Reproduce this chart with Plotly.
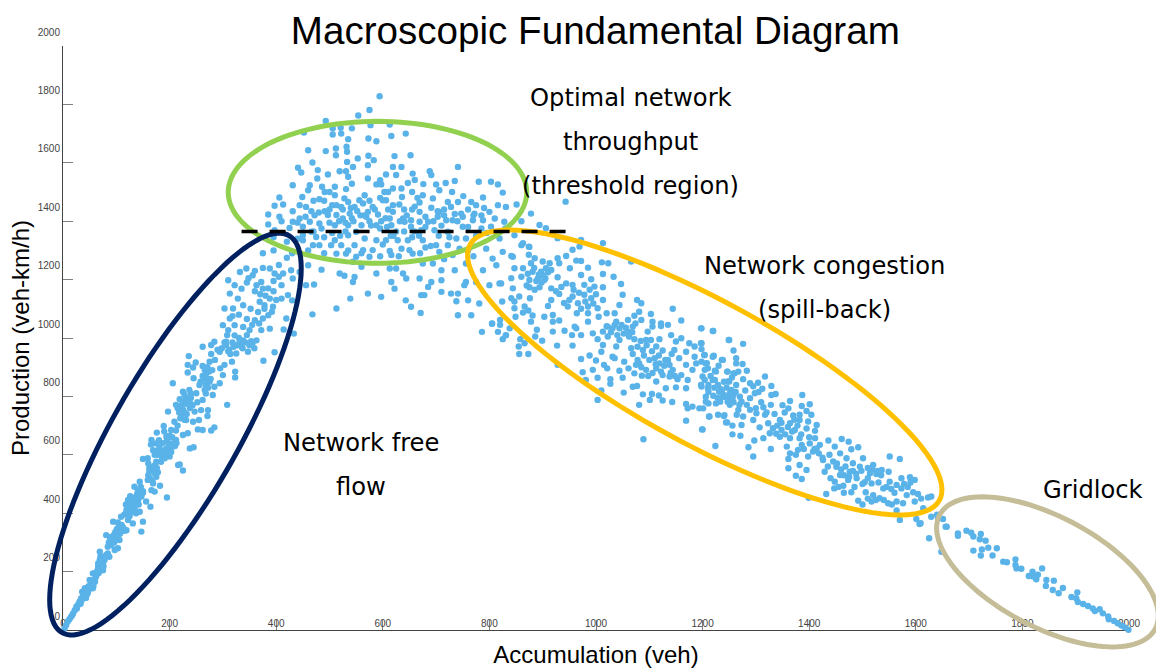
import numpy as np
import plotly.graph_objects as go

# Accumulation (veh), Production (veh-km/h) pairs, grouped by regime
free_flow = [(3,6),(6,17),(9,29),(12,37),(19,57),(22,68),(28,86),(31,97),(25,80),(34,108),(37,114),(36,131),(44,120),(47,131),(41,143),(50,143),(56,143),(53,166),(50,171),(59,194),(62,183),(56,194),(66,217),(72,205),(75,205),(66,228),(69,240),(75,228),(72,251),(81,257),(87,251),(69,268),(84,285),(91,291),(97,274),(103,280),(81,325),(94,314),(100,325),(106,308),(109,337),(119,342),(94,371),(103,368),(147,337),(150,371),(122,377),(131,365),(109,388),(119,411),(128,422),(137,400),(144,405),(122,445),(131,434),(141,445),(144,468),(134,491),(144,508),(147,457),(156,440),(164,422),(195,454),(172,474),(166,479),(182,494),(169,502),(159,514),(162,542),(172,537),(175,525),(162,554),(150,586),(159,588),(175,576),(184,576),(191,588),(200,594),(216,565),(225,546),(219,567),(166,651),(175,639),(169,616),(181,628),(194,622),(206,628),(212,651),(194,662),(203,685),(212,683),(225,668),(234,674),(238,622),(245,626),(176,676),(189,699),(209,713),(222,731),(231,719),(244,713),(255,719),(253,687),(262,685),(278,683),(284,694),(271,733),(272,753),(259,753),(197,748),(212,771),(219,790),(228,805),(237,822),(225,816),(234,776),(247,748),(250,811),(262,788),(281,805),(266,822),(256,839),(245,862),(206,845),(234,882),(234,908),(244,899),(249,916),(236,938),(262,970),(278,976),(294,953),(306,976),(325,947),(337,965),(347,953),(359,965),(278,945),(262,904),(275,919),(269,879),(275,850),(284,833),(294,845),(300,873),(295,896),(303,908),(317,919),(323,885),(323,865),(308,771),(376,922),(397,951),(284,987),(331,982),
(15,45),(17,50),(26,74),(33,90),(40,125),(43,110),(48,150),(54,158),(60,175),(64,200),(70,222),(78,240),(84,262),(90,300),(96,300),(88,318),(104,330),(112,345),(115,395),(125,400),(134,418),(138,432),(126,458),(150,475),(170,560),(178,600),(188,610),(198,640),(205,660),(180,650),(215,700),(228,745),(238,760),(252,780),(240,795),(268,810),(272,860),(285,925),(310,955),(320,970)]
free_flow_dense = [(30,90),(33,100),(35,102),(38,120),(39,110),(42,118),(45,135),(46,125),(49,140),(52,150),(55,160),(57,150),(58,172),(60,165),(63,190),(65,205),(67,195),(68,212),(71,232),(73,225),(70,250),(74,240),(76,218),
(86,300),(89,310),(92,305),(95,325),(98,335),(101,345),(104,350),(107,330),(110,360),(113,350),(116,340),(99,315),
(118,400),(121,415),(124,425),(127,440),(130,450),(133,425),(136,455),(139,465),(142,430),(128,405),(125,390),(135,410),(140,480),(146,490),(150,470),(118,430),
(160,530),(163,520),(166,545),(168,510),(170,550),(173,565),(176,555),(160,570),(178,540),
(183,600),(186,590),(190,615),(193,605),(197,600),(200,620),(203,610),(207,640),(210,630),(213,640),(187,640),(195,650),(178,615),(172,600),(165,635),(200,665),(190,680),
(215,760),(218,745),(222,770),(225,755),(228,785),(231,775),(235,795),(238,780),(232,740),(240,810),(243,770),(220,725),(228,720),
(258,850),(262,870),(265,860),(268,840),(271,900),(274,885),(277,860),(280,890),(272,830),(266,890),
(290,960),(298,965),(303,985),(312,960),(318,985),(326,975),(335,970),(342,985),(350,975),(356,985),(314,945)]
knee = [(310,1198),(332,1226),(344,1238),(322,1181),(335,1169),(313,1152),(328,1135),(338,1112),(303,1101),(319,1101),(356,1215),(372,1192),(363,1181),(375,1169),(388,1238),(397,1221),(413,1221),(410,1181),(428,1232),(431,1204),(444,1226),(460,1249),(456,1181),(471,1183),(485,1234),(369,1124),(378,1112),(388,1135),(410,1135),(422,1147),(394,1107),(366,1089),(375,1067),(385,1078),(360,1061),(300,1044),(313,1067),(322,1044),(310,1027),(322,1009),(338,1038),(350,1027),(372,1027),(388,1032),(338,992),(353,989),(363,992),(306,987),(433,1015),(419,1067),(468,1081),(513,1101),(414,1029),(430,1129),
(348,1205),(360,1160),(380,1145),(395,1160),(405,1250),(420,1275),(375,1290),(395,1300),(352,1100),(330,1080),(345,1065),(368,1050),(308,1010),(318,1075),(330,1000),(345,1010),(355,1045),(378,1100),(392,1090),(400,1130),(370,1150),(385,1170),(395,1195),(405,1210),(345,1190),(360,1230),(375,1240)]
peak = [(594,1828),(575,1781),(554,1762),(493,1743),(506,1718),(521,1720),(542,1718),(577,1729),(613,1731),(506,1697),(522,1700),(452,1704),(535,1681),(573,1683),(588,1674),(616,1692),(643,1700),(532,1655),(460,1643),(493,1640),(512,1649),(512,1626),(533,1638),(553,1615),(573,1624),(583,1609),(622,1623),(652,1626),(533,1603),(544,1586),(572,1592),(441,1583),(447,1567),(468,1601),(478,1575),(497,1560),(519,1571),(531,1571),(535,1552),(572,1546),(606,1560),(619,1586),(635,1586),(625,1558),(656,1563),(688,1571),(691,1558),(741,1586),(431,1523),(463,1523),(460,1506),(477,1546),(486,1518),(510,1518),(531,1510),(542,1528),(588,1526),(597,1526),(619,1512),(635,1512),(647,1531),(660,1541),(676,1527),(700,1526),(718,1531),(735,1538),(780,1535),(803,1535),(816,1526),(825,1498),(788,1481),(751,1486),(730,1500),(706,1506),(694,1478),(675,1489),(655,1500),(636,1483),(603,1500),(600,1472),(566,1489),(556,1472),(528,1478),(510,1489),(491,1500),(481,1475),(449,1483),(406,1481),(397,1453),(413,1457),(385,1423),(406,1415),(431,1434),(444,1455),(456,1449),(466,1434),(491,1434),(513,1455),(522,1449),(535,1466),(547,1449),(563,1461),(581,1449),(606,1472),(619,1455),(631,1457),(669,1464),(691,1446),(703,1434),(722,1466),(741,1466),(766,1466),(775,1455),(816,1455),(831,1449),(851,1457),(878,1426),(800,1432),(772,1426),(747,1426),(728,1449),(706,1432),(669,1432),(653,1403),(638,1409),(619,1432),(613,1409),(591,1423),(572,1432),(560,1386),(538,1426),(525,1409),(513,1421),(497,1421),(481,1392),(463,1398),(444,1409),(431,1398),(385,1389),(397,1369),(425,1377),(450,1381),(466,1364),(485,1375),(510,1386),(535,1386),(550,1364),(569,1415),(588,1386),(616,1386),(641,1398),(653,1381),(669,1398),(685,1398),(719,1403),(731,1403),(750,1415),(769,1403),(788,1403),(810,1409),(828,1398),(703,1415),(672,1369),(697,1369),(722,1364),(750,1381),(785,1375),(803,1381),(847,1352),(819,1341),(450,1352),(450,1335),(475,1346),(510,1335),(535,1352),(566,1341),(588,1335),(606,1335),(628,1335),(647,1335),(675,1335),(700,1318),(722,1318),(738,1341),(756,1341),(794,1306),(469,1318),(481,1318),(503,1318),(522,1318),(547,1318),(563,1301),(581,1301),(613,1298),(635,1306),(650,1301),(706,1295),(731,1284),(513,1289),(531,1289),(550,1278),(575,1278),(616,1284),(656,1289),(744,1306),(544,1261),(560,1244),(588,1221),(613,1238),(625,1238),(519,1221),(528,1213),(547,1209),(638,1221),(675,1255),(694,1255),(710,1232),(735,1232),(756,1255),(616,1192),(544,1192),(644,1204),(669,1204),(691,1192),(710,1198),(756,1192),(622,1169),(572,1152),(597,1141),(539,1135),(678,1147),(672,1147),(710,1158),(728,1152),(741,1152),(643,1129),(685,1175),(738,1126),(760,1129),(781,1118),(653,1107),(671,1086),(741,1078),(766,1078),(805,1049),(786,1021),(816,1021),(831,1009),(753,1181),(775,1192),(800,1181),(819,1187),(788,1232),(813,1249),(806,1272),(825,1295),(844,1278),(860,1318),(875,1312),
(440,1395),(455,1415),(472,1420),(500,1440),(518,1400),(530,1365),(545,1400),(558,1420),(575,1400),(595,1375),(605,1410),(625,1365),(640,1365),(660,1365),(680,1415),(710,1385),(735,1425),(760,1380),(775,1350),(505,1360),(520,1350),(490,1345),(600,1320),(615,1350),(655,1345),(690,1315),(595,1480),(610,1440),(575,1470),(540,1445),(500,1500),(470,1470),(640,1440),(660,1450),(715,1440),(760,1440),(790,1445),(595,1540),(610,1500),(665,1480)]
peak_dense = [(525,1440),(530,1395),(542,1410),(552,1435),(565,1420),(578,1385),(585,1440),(597,1400),(608,1380),(620,1350),(632,1400),(645,1420),(655,1440),(668,1350),(680,1380),(695,1400),(705,1350),(715,1420),(725,1345),(740,1400),(770,1420),(785,1420),(795,1360),(830,1375),(860,1400),(470,1365),(480,1430),(500,1395),(505,1455),(490,1470),(440,1340),(460,1300),(490,1290),(535,1300),(560,1290),(595,1280),(630,1280),(670,1290),(680,1310),(715,1270),(770,1280),(760,1300),(420,1330),(430,1290),(410,1400),(395,1345)]
congestion = [(894,1387),(906,1376),(943,1467),(1013,1325),(972,1336),(928,1342),(863,1325),(874,1313),(956,1302),(969,1313),(841,1281),(874,1285),(885,1273),(900,1262),(928,1273),(944,1281),(963,1265),(972,1264),(1011,1259),(1023,1256),(1066,1262),(985,1241),(951,1239),(878,1256),(913,1256),(931,1256),(847,1239),(863,1239),(881,1227),(897,1227),(906,1239),(916,1233),(841,1205),(860,1210),(875,1199),(891,1205),(903,1199),(928,1208),(972,1216),(1013,1219),(1033,1210),(991,1201),(1047,1185),(944,1187),(956,1182),(978,1182),(997,1176),(1013,1174),(894,1174),(875,1174),(844,1170),(856,1142),(822,1187),(916,1170),(931,1151),(956,1142),(978,1148),(991,1136),(1013,1130),(1050,1148),(1077,1130),(1085,1119),(841,1136),(824,1125),(847,1125),(876,1136),(916,1130),(910,1110),(947,1108),(966,1119),(985,1108),(1003,1102),(1044,1113),(1081,1090),(1144,1100),(866,1108),(847,1102),(873,1094),(863,1087),(849,1073),(903,1073),(881,1077),(919,1079),(964,1085),(985,1085),(1005,1073),(1020,1085),(1035,1085),(1072,1076),(1103,1082),(919,1056),(878,1056),(931,1060),(1038,1056),(1060,1062),(1085,1062),(985,1056),(1106,1056),(1122,1050),(1135,1045),(1160,1060),(820,1062),(805,1050),(820,1045),(960,1039),(1022,1039),(1044,1033),(1069,1039),(1097,1022),(1106,1039),(1122,1041),(1197,1033),(1219,1024),(838,1033),(889,1028),(919,1022),(941,1025),(963,1033),(994,1016),(1013,1022),(1031,1033),(1060,1022),(1094,993),(1119,996),(1141,1010),(1160,999),(1175,982),(1197,982),(1249,993),(831,1010),(825,996),(858,996),(886,1005),(899,991),(955,1010),(972,1010),(1003,996),(1022,1005),(1044,993),(1072,996),(1103,993),(1150,988),(1185,971),(866,982),(855,971),(927,974),(956,974),(1013,976),(1038,971),(1066,965),(1088,959),(1113,971),(1125,957),(1147,959),(1169,953),(1203,942),(1219,936),(856,945),(873,945),(1010,953),(1031,936),(1069,945),(1110,931),(1130,925),(1156,931),(1185,936),(1206,913),(1236,925),(972,928),(988,940),(1000,923),(1015,908),(1035,931),(1053,919),(1081,913),(1119,913),(1138,908),(1169,908),(1188,913),(1247,885),(1263,913),(928,908),(1021,896),(1044,888),(1061,896),(1075,908),(1094,891),(1113,896),(1144,891),(1160,873),(1181,891),(1210,896),(1225,885),(1260,879),(975,883),(994,891),(1003,864),(1027,859),(1050,864),(1072,879),(1086,871),(1113,851),(1125,873),(1138,868),(1153,859),(1172,856),(1200,868),(1219,856),(1247,851),(981,856),(1027,843),(1069,833),(1077,836),(1131,828),(1150,831),(1169,828),(1197,839),(1210,828),(1231,816),(1253,816),(1263,839),(1010,820),(1052,813),(1088,807),(1105,808),(1118,803),(1206,799),(1238,799),(1256,794),(1003,788),(1101,788),(1125,786),(1143,781),(1169,774),(1181,765),(1206,782),(1225,776),(1247,782),(1081,771),(1172,759),(1194,759),(1213,731),(1241,736),(1269,771),(1169,717),(1244,711),(1199,687),(1256,700),(1089,653)]
congestion_dense = [(872,1220),(884,1240),(888,1195),(893,1218),(898,1190),(900,1215),(905,1205),(910,1225),(870,1180),(885,1165),(925,1160),(935,1175),(940,1120),(950,1130),(958,1165),(968,1155),(972,1100),(980,1125),(988,1165),(995,1118),(1000,1150),(1020,1040),(1028,1020),(1035,1045),(1040,1010),(1048,1045),(1052,1015),(1056,1035),(1062,1005),(1068,1020),(1074,1050),(1078,970),(1084,990),(1090,940),(1095,975),(1100,925),(1105,955),(1112,910),(1118,940),(1122,885),(1128,905),(1135,925),(1140,880),(1142,945),(1148,870),(1078,925),(1085,900),(1098,870),(1106,880),(1222,830),(1228,795),(1234,825),(1240,805),(1246,795),(1251,810),(1245,830),(1258,780),(1262,815),(1340,700),(1348,710),(1355,670),(1360,695),(1368,680),(1372,720),(1378,700),(1385,670),(1395,690),(1338,672),(1410,620),(1418,605),(1425,590),(1438,600),(1452,570),(1460,550),(1468,560),(1475,525),(1482,545),(1488,535),(1498,545),(1510,555),(1518,550),(1528,545),(1535,530),(1510,450),(1525,445),(1540,445),(1555,430),(1500,430),(1585,490),(1590,505),(1610,450),(1640,395)]
spillback_tail = [(1198,1033),(1220,1024),(1250,993),(1276,980),(1198,982),(1258,957),(1198,962),(1204,942),(1221,939),(1238,925),(1263,931),(1275,911),(1208,914),(1198,919),(1204,891),(1223,888),(1246,885),(1258,879),(1267,885),(1283,888),(1317,868),(1276,859),(1223,856),(1204,856),(1250,851),(1289,845),(1304,847),(1229,839),(1211,839),(1198,834),(1329,836),(1312,826),(1211,816),(1236,816),(1254,822),(1298,811),(1337,808),(1329,805),(1220,802),(1242,799),(1258,805),(1270,799),(1289,794),(1364,784),(1387,805),(1401,773),(1386,767),(1201,759),(1211,776),(1233,782),(1251,771),(1273,782),(1283,771),(1314,763),(1328,771),(1354,745),(1361,759),(1267,754),(1289,754),(1317,737),(1301,742),(1212,731),(1229,737),(1240,733),(1264,737),(1276,731),(1404,737),(1382,737),(1246,711),(1273,702),(1295,719),(1307,694),(1323,708),(1345,719),(1364,708),(1382,719),(1398,714),(1414,702),(1200,687),(1332,691),(1348,685),(1373,685),(1411,682),(1256,670),(1271,665),(1314,657),(1326,674),(1345,662),(1364,657),(1382,657),(1411,657),(1436,649),(1461,654),(1474,645),(1297,649),(1328,620),(1286,626),(1224,630),(1358,628),(1386,634),(1401,639),(1420,634),(1448,628),(1492,626),(1295,594),(1364,605),(1379,617),(1407,611),(1414,622),(1458,605),(1479,619),(1551,594),(1570,586),(1361,586),(1382,565),(1398,594),(1426,582),(1445,577),(1470,588),(1501,588),(1361,554),(1395,548),(1429,542),(1451,559),(1482,571),(1520,565),(1536,548),(1549,542),(1375,528),(1386,517),(1458,531),(1476,542),(1495,559),(1514,537),(1526,534),(1589,523),(1598,514),(1448,508),(1464,494),(1473,514),(1489,520),(1504,506),(1517,502),(1551,508),(1564,497),(1573,520),(1554,483),(1447,485),(1479,472),(1506,472),(1432,466),(1399,453),(1520,462),(1539,485),(1573,485),(1583,462),(1595,472),(1604,466),(1623,454),(1492,443),(1517,440),(1532,451),(1548,434),(1564,440),(1576,434),(1598,440),(1629,457),(1564,409),(1570,377),(1601,380),(1607,363),(1614,417),(1629,388),(1642,383),(1651,380),(1656,354),
(1300,760),(1310,780),(1320,745),(1335,740),(1350,770),(1370,735),(1395,750),(1240,850),(1255,865),(1280,820),(1295,835),(1305,815),(1215,870),(1230,905),(1400,660),(1390,620),(1375,600),(1435,560),(1440,520),(1455,490),(1465,530),(1500,500),(1530,505),(1545,490),(1560,470),(1465,470),(1485,490),(1510,520),(1578,500)]
gridlock = [(1625,314),(1648,268),(1658,354),(1679,331),(1679,323),(1695,340),(1704,333),(1708,320),(1720,311),(1722,329),(1731,306),(1736,282),(1752,280),(1724,276),(1708,272),(1722,255),(1744,255),(1764,234),(1771,232),(1787,242),(1787,223),(1789,211),(1798,210),(1812,185),(1819,200),(1820,183),(1826,174),(1837,211),(1829,189),(1845,171),(1844,151),(1859,169),(1857,137),(1868,126),(1876,144),(1892,113),(1903,129),(1901,109),(1904,96),(1914,89),(1923,82),(1932,74),(1936,65),(1945,71),(1951,57),(1961,46),(1962,37),(1972,31),(1979,23),(1986,15),(1992,9),(1999,1),(1609,366)]

tick_values = [0, 200, 400, 600, 800, 1000, 1200, 1400, 1600, 1800, 2000]
tick_labels = [str(v) for v in tick_values]
threshold_production = 1365
threshold_span = [335, 943]
axis_max = 2000

# Regime outlines: centre x, centre y, half width, half height, correlation, colour
outlines = [
    (590, 1499, 280, 243, 0.0, "#92D050"),
    (211, 671, 236, 688, 0.825, "#002060"),
    (1847, 199, 208, 257, -0.586, "#C4BD97"),
    (1204, 882, 445, 488, -0.823, "#FFC000"),
]
# Region labels: text, accumulation, production
labels = [
    ("Optimal network", 1065, 1822), ("throughput", 1065, 1672), ("(threshold region)", 1065, 1521),
    ("Network congestion", 1429, 1247), ("(spill-back)", 1429, 1096),
    ("Network free", 559, 640), ("flow", 559, 490), ("Gridlock", 1932, 480),
]

points = free_flow + free_flow_dense + knee + peak + peak_dense + congestion + congestion_dense + spillback_tail + gridlock
fig = go.Figure()
fig.add_trace(go.Scatter(x=[p[0] for p in points], y=[p[1] for p in points], mode="markers",
                         marker=dict(color="#5AB3E8", size=6.4, line=dict(width=0)),
                         cliponaxis=False, showlegend=False))
t = np.linspace(0, 2 * np.pi, 121)
for cx, cy, wx, wy, rho, colour in outlines:
    # Paper coordinates are not clipped to the plot area; the plot spans 0..axis_max on both axes.
    ex = (cx + wx * np.cos(t)) / axis_max
    ey = (cy + wy * np.cos(t - np.arccos(rho))) / axis_max
    path = "M" + " L".join(f"{a:.5f},{b:.5f}" for a, b in zip(ex, ey)) + " Z"
    fig.add_shape(type="path", path=path, xref="paper", yref="paper", line=dict(color=colour, width=5), layer="above")

fig.add_shape(type="line", x0=threshold_span[0], x1=threshold_span[1], y0=threshold_production,
              y1=threshold_production, line=dict(color="black", width=3.5, dash="16px,12px"), layer="above")
for text, x, y in labels:
    fig.add_annotation(x=x, y=y, text=text, showarrow=False,
                       font=dict(family="DejaVu Sans", size=24.2, color="black"))

axis = dict(range=[0, axis_max], tickvals=tick_values, ticktext=tick_labels, showgrid=False, zeroline=False,
            showline=True, linecolor="#444444", linewidth=1, ticks="inside", ticklen=10, tickcolor="#808080",
            tickwidth=1, tickfont=dict(family="Liberation Sans", size=10, color="#444444"), layer="below traces",
            automargin=False)
fig.update_layout(
    width=1156, height=670, autosize=False, margin=dict(l=63.3, r=26.5, t=46, b=40),
    paper_bgcolor="white", plot_bgcolor="white", showlegend=False,
    title=dict(text="Macroscopic Fundamental Diagram", x=0.515, xanchor="center", y=0.955, yanchor="middle",
               font=dict(family="Liberation Sans", size=38.6, color="black")),
    xaxis=dict(axis, ticklabelstandoff=-16,
               title=dict(text="Accumulation (veh)", standoff=18, font=dict(family="Liberation Sans", size=24, color="black"))),
    yaxis=dict(axis, ticklabelshift=-14,
               title=dict(text="Production (veh-km/h)", standoff=1, font=dict(family="Liberation Sans", size=24, color="black"))),
)
fig.write_html("out.html", config={"displayModeBar": False},
               post_script="document.body.style.margin='0';document.body.style.overflow='hidden';")
